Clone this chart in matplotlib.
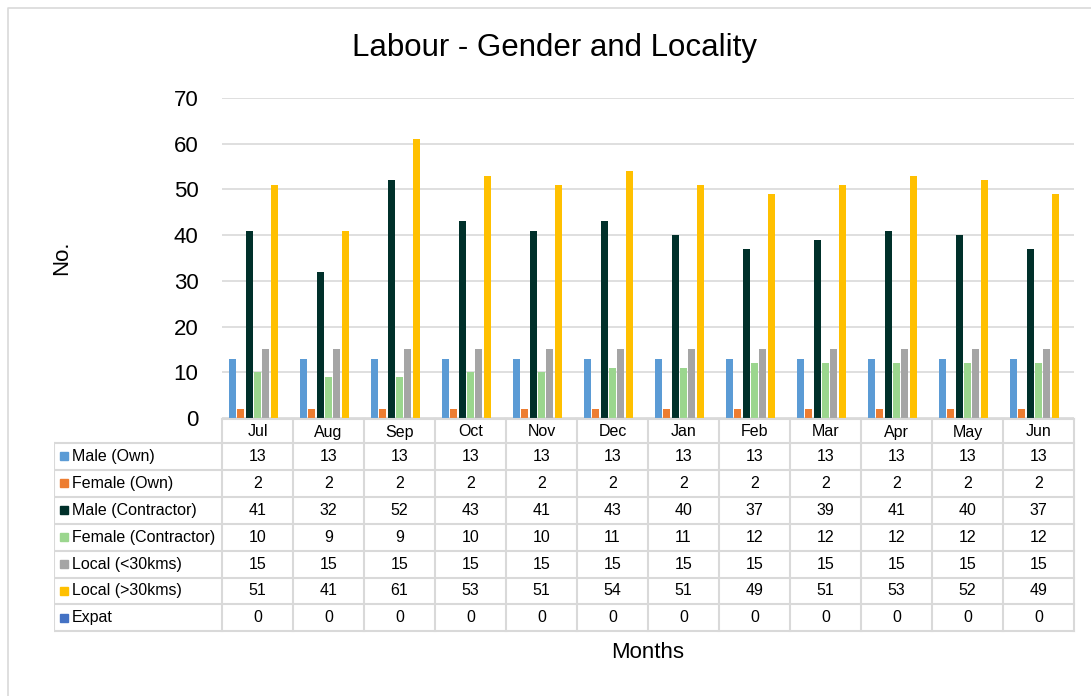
import matplotlib
matplotlib.use("Agg")
import matplotlib.pyplot as plt
import numpy as np

plt.rcParams['font.family'] = ['Liberation Sans', 'DejaVu Sans']

months = ["Jul", "Aug", "Sep", "Oct", "Nov", "Dec", "Jan", "Feb", "Mar", "Apr", "May", "Jun"]
series = ["Male (Own)", "Female (Own)", "Male (Contractor)", "Female (Contractor)",
          "Local (<30kms)", "Local (>30kms)", "Expat"]
male_own = [13, 13, 13, 13, 13, 13, 13, 13, 13, 13, 13, 13]
female_own = [2, 2, 2, 2, 2, 2, 2, 2, 2, 2, 2, 2]
male_contr = [41, 32, 52, 43, 41, 43, 40, 37, 39, 41, 40, 37]
female_contr = [10, 9, 9, 10, 10, 11, 11, 12, 12, 12, 12, 12]
local_near = [15, 15, 15, 15, 15, 15, 15, 15, 15, 15, 15, 15]
local_far = [51, 41, 61, 53, 51, 54, 51, 49, 51, 53, 52, 49]
expat = [0, 0, 0, 0, 0, 0, 0, 0, 0, 0, 0, 0]
values = [male_own, female_own, male_contr, female_contr, local_near, local_far, expat]
colors = ["#5B9BD5", "#ED7D31", "#00302A", "#9BD68E", "#A5A5A5", "#FFC000", "#4472C4"]

W, H = 1091, 696
fig = plt.figure(figsize=(W / 100, H / 100), dpi=100)

def px(x0, y0, x1, y1):
    return [x0 / W, 1 - y1 / H, (x1 - x0) / W, (y1 - y0) / H]

# frame of the chart
frame = fig.add_axes([0, 0, 1, 1])
frame.set_xlim(0, W)
frame.set_ylim(H, 0)
frame.axis("off")
frame.plot([8, 8, W + 5], [H + 5, 8, 8], color="#D9D9D9", lw=1.2)

L, R, T, B = 222, 1074, 98, 418
ax = fig.add_axes(px(L, T, R, B))
x = np.arange(len(months))
slot = 0.117
bw = 0.1
for i, (vals, c) in enumerate(zip(values, colors)):
    off = (i - 3) * slot
    ax.bar(x + off, vals, width=bw, color=c, zorder=3)
ax.set_xlim(-0.5, len(months) - 0.5)
ax.set_ylim(0, 70)
ax.set_yticks(range(0, 71, 10))
ax.yaxis.grid(True, color="#D9D9D9", lw=1.2, zorder=0)
ax.tick_params(axis="y", length=0, labelsize=16, pad=17)
ax.set_xticks([])
for s in ax.spines.values():
    s.set_visible(False)
fig.text(555 / W, 1 - 48 / H, "Labour - Gender and Locality", fontsize=22.5,
         ha="center", va="center")
fig.text(62 / W, 1 - 258 / H, "No.", rotation=90, fontsize=16, ha="center", va="center")

# data table
tl = 54
tax = fig.add_axes(px(tl, 410, R + 2, 640))
tax.set_xlim(tl, R + 2)
tax.set_ylim(640, 410)
tax.axis("off")
lc = "#D9D9D9"
cw = (R - L) / len(months)
top = 419
rh0 = 24
rh = 26.9
rows_y = [top + rh0 + rh * k for k in range(len(series) + 1)]
tax.plot([L, R], [top, top], color=lc, lw=1.5)
for yy in rows_y:
    tax.plot([tl, R], [yy, yy], color=lc, lw=1.5)
for j in range(len(months) + 1):
    tax.plot([L + cw * j, L + cw * j], [top, rows_y[-1]], color=lc, lw=1.5)
tax.plot([tl, tl], [rows_y[0], rows_y[-1]], color=lc, lw=1.5)
for j, m in enumerate(months):
    tax.text(L + cw * (j + 0.5), top + rh0 / 2 + 1, m, ha="center", va="center", fontsize=11.5)
for k, (name, vals, c) in enumerate(zip(series, values, colors)):
    yc = rows_y[k] + rh / 2
    tax.add_patch(plt.Rectangle((tl + 6, yc - 4), 8, 8, color=c))
    tax.text(tl + 18, yc, name, ha="left", va="center", fontsize=11.5)
    for j, v in enumerate(vals):
        tax.text(L + cw * (j + 0.5), yc, str(v), ha="center", va="center", fontsize=11.5)

fig.text((L + R) / 2 / W, 1 - 653 / H, "Months", ha="center", va="center", fontsize=16)

fig.savefig("out.png", dpi=100)
